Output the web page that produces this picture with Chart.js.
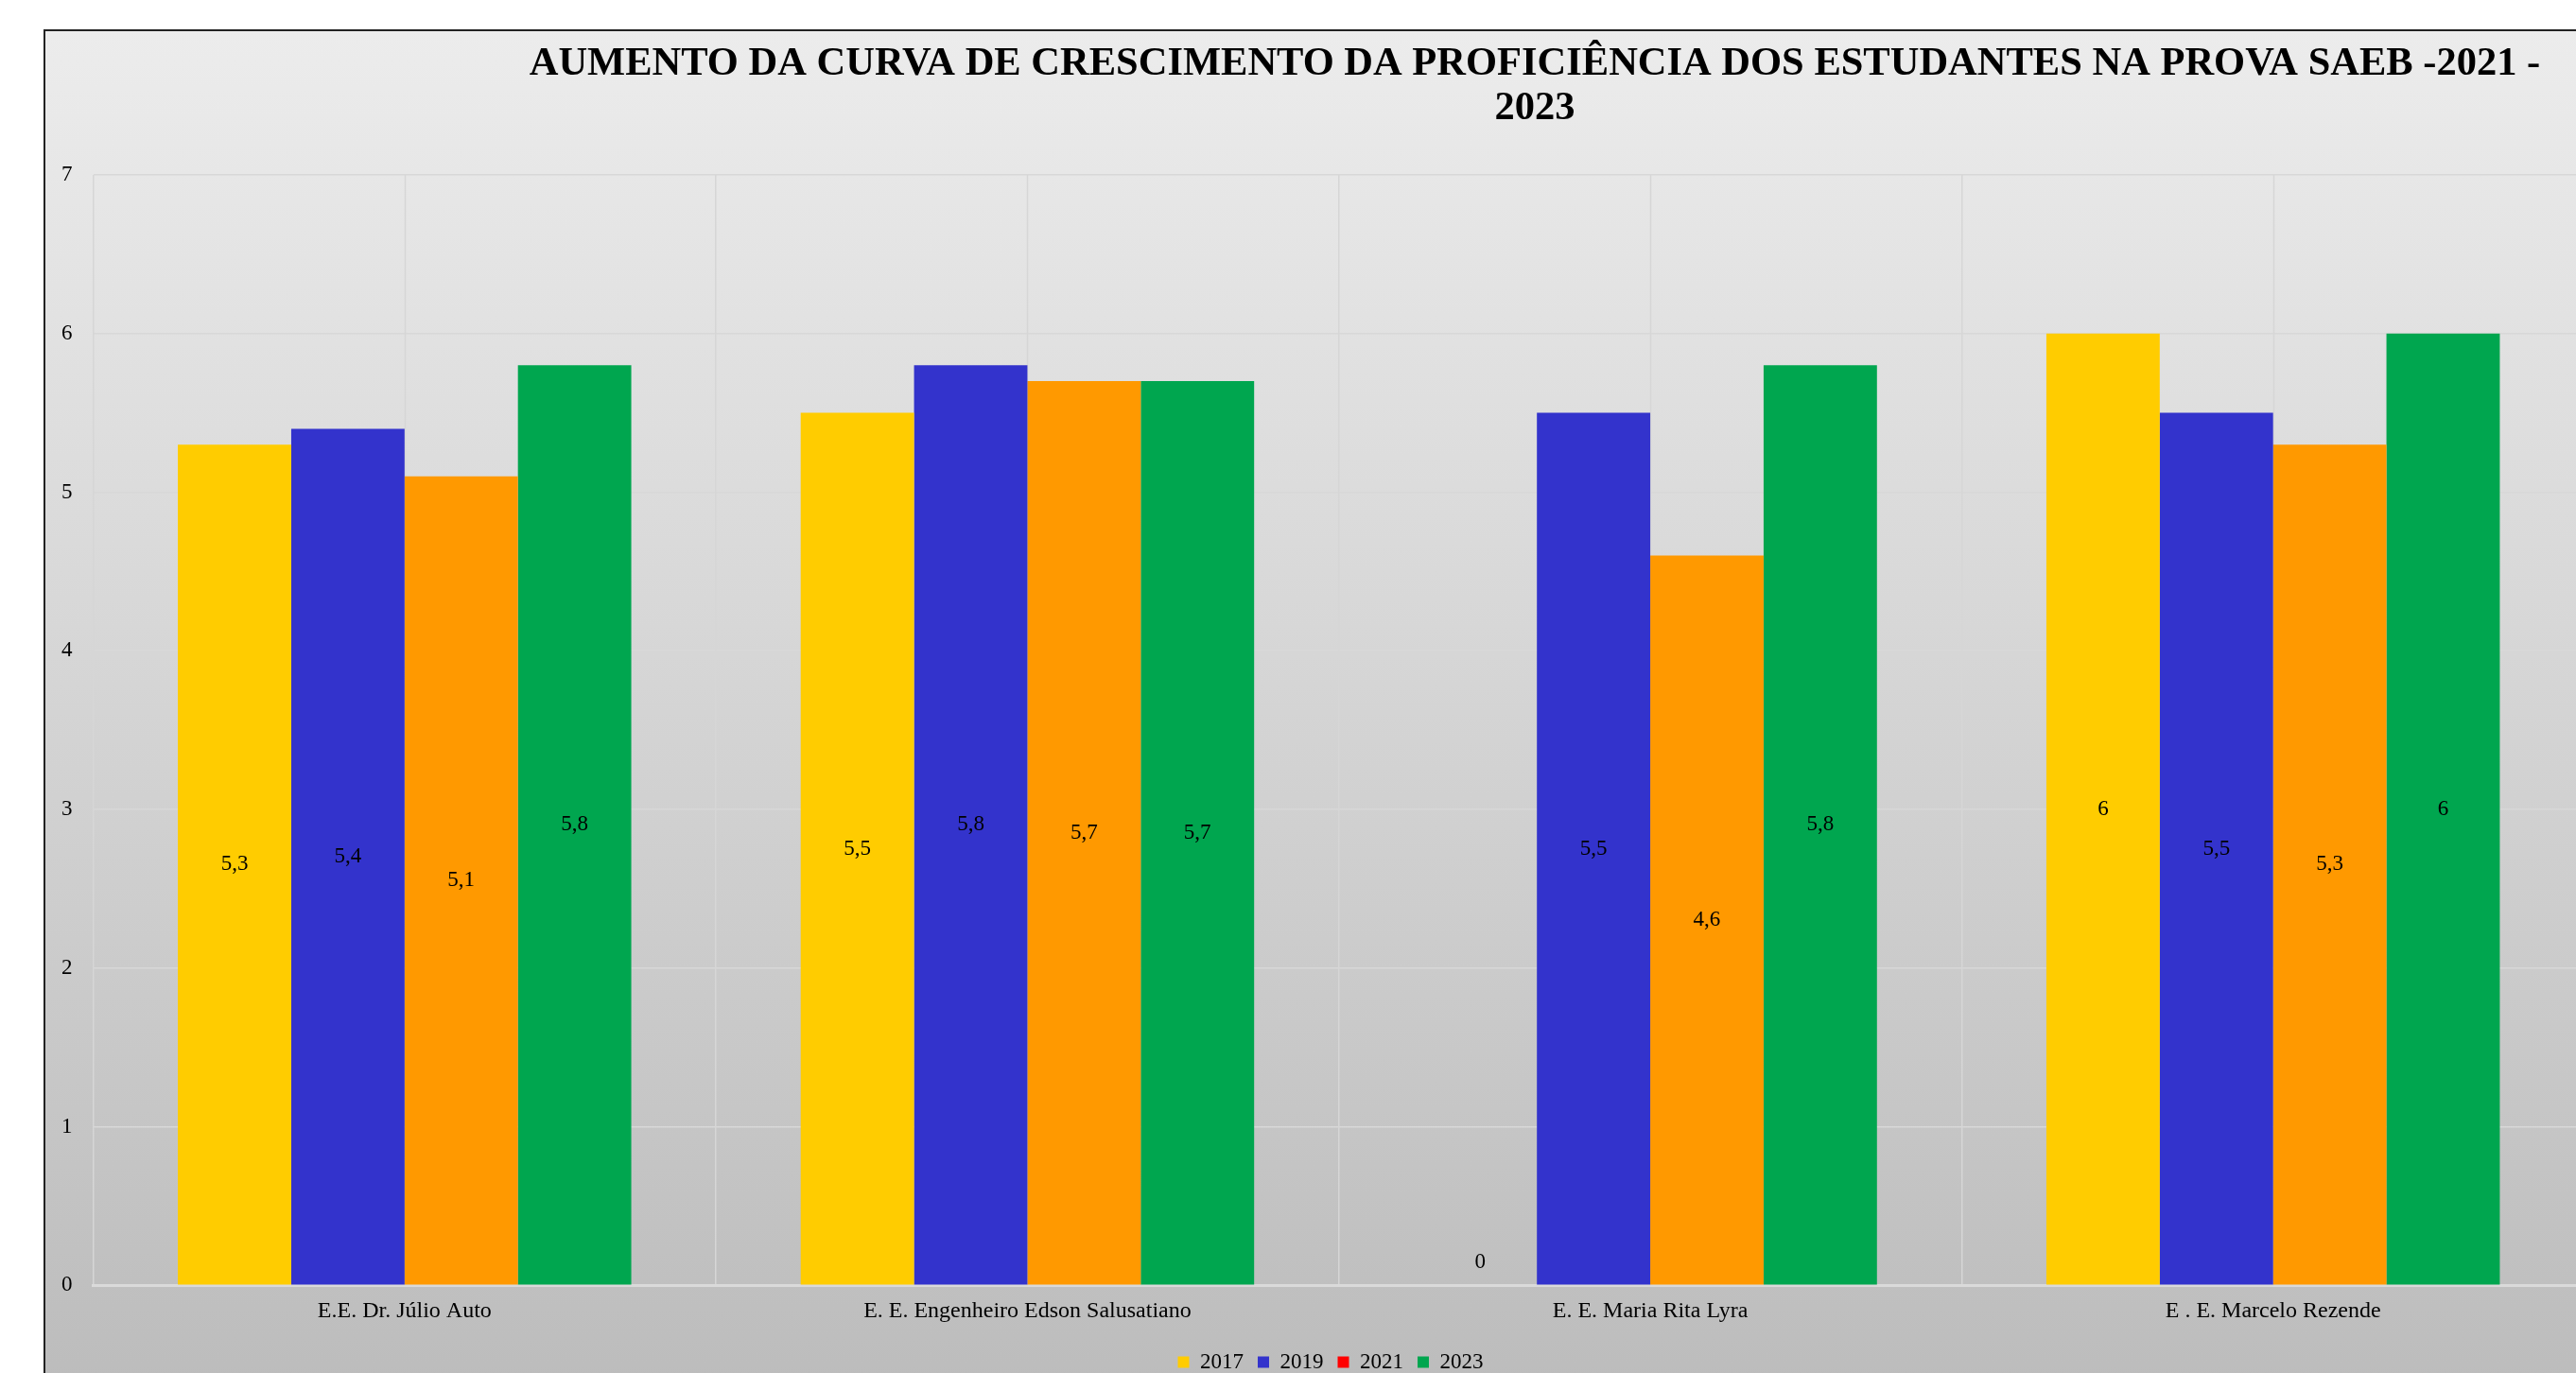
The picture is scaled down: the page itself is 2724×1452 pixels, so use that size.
<!DOCTYPE html>
<html>
<head>
<meta charset="utf-8">
<script src="https://cdn.jsdelivr.net/npm/chart.js@4.4.1/dist/chart.umd.min.js"></script>
<style>
  html, body { margin: 0; padding: 0; background: #fff; overflow: hidden; width: 2724px; height: 1452px; }
  #frame {
    position: absolute; left: 46px; top: 31px; width: 2760px; height: 1440px;
    border-left: 2px solid #222; border-top: 2px solid #222;
    background: linear-gradient(#ececec, #bcbcbc);
  }
  #frame canvas { display: block; }
</style>
</head>
<body>
<div id="frame"><canvas id="my-chart"></canvas></div>
<script>
'use strict';

let schools = ['E.E. Dr. Júlio Auto', 'E. E. Engenheiro Edson Salusatiano', 'E. E. Maria Rita Lyra', 'E . E. Marcelo Rezende'];
let years = ['2017', '2019', '2021', '2023'];
let scores2017 = [5.3, 5.5, 0, 6];
let scores2019 = [5.4, 5.8, 5.5, 5.5];
let scores2021 = [5.1, 5.7, 4.6, 5.3];
let scores2023 = [5.8, 5.7, 5.8, 6];
let barColors = ['#ffcc00', '#3333cc', '#ff9900', '#00a64f'];
let legendColors = ['#ffcc00', '#3333cc', '#ff0000', '#00a64f'];
let yTicks = [0, 1, 2, 3, 4, 5, 6, 7];
let titleLines = ['AUMENTO DA CURVA DE CRESCIMENTO DA PROFICIÊNCIA DOS ESTUDANTES NA PROVA SAEB -2021 -', '2023'];

let canvasElem = document.getElementById('my-chart');
let serif = '"Liberation Serif", "Times New Roman", serif';

// value labels in the middle of each bar, comma decimals
let barLabels = {
  id: 'barLabels',
  afterDatasetsDraw(chart) {
    let ctx = chart.ctx;
    ctx.save();
    ctx.font = '23px ' + serif;
    ctx.fillStyle = '#000';
    ctx.textAlign = 'center';
    ctx.textBaseline = 'middle';
    chart.data.datasets.forEach((ds, i) => {
      chart.getDatasetMeta(i).data.forEach((bar, j) => {
        let v = ds.data[j];
        let y = v === 0 ? bar.base - 24 : (bar.y + bar.base) / 2;
        ctx.fillText(String(v).replace('.', ','), bar.x, y);
      });
    });
    ctx.restore();
  }
};

// extra vertical grid lines through the middle of each category
let centerLines = {
  id: 'centerLines',
  beforeDatasetsDraw(chart) {
    let ctx = chart.ctx;
    let area = chart.chartArea;
    let xs = chart.scales.x;
    ctx.save();
    ctx.strokeStyle = '#d6d6d6';
    ctx.lineWidth = 1.5;
    for (let i = 0; i < schools.length; i++) {
      let px = Math.round(xs.getPixelForValue(i)) + 0.5;
      ctx.beginPath();
      ctx.moveTo(px, area.top);
      ctx.lineTo(px, area.bottom);
      ctx.stroke();
    }
    ctx.restore();
  }
};

// title sits right of centre in the original, so draw it ourselves
let shiftedTitle = {
  id: 'shiftedTitle',
  afterDraw(chart) {
    let ctx = chart.ctx;
    ctx.save();
    ctx.font = 'bold 42.5px ' + serif;
    ctx.fillStyle = '#000';
    ctx.textAlign = 'center';
    ctx.textBaseline = 'middle';
    ctx.fillText(titleLines[0], 1575, 35);
    ctx.fillText(titleLines[1], 1575, 82);
    ctx.restore();
  }
};

// legend is centred under the plot, not under the whole frame
let legendNudge = {
  id: 'legendNudge',
  afterLayout(chart) {
    chart.legend.left += 19;
    chart.legend.right += 19;
  }
};

function renderChart() {
  let seriesData = [scores2017, scores2019, scores2021, scores2023];
  let datasets = [];
  for (let i = 0; i < years.length; i++) {
    datasets.push({
      label: years[i],
      data: seriesData[i],
      backgroundColor: barColors[i],
      borderWidth: 0,
      categoryPercentage: 0.728,
      barPercentage: 1.0
    });
  }

  let chartObj = {
    type: 'bar',
    data: { labels: schools, datasets: datasets },
    plugins: [centerLines, barLabels, shiftedTitle, legendNudge],
    options: {
      responsive: true,
      maintainAspectRatio: false,
      devicePixelRatio: 1,
      animation: false,
      layout: { padding: { top: 152, left: -5, right: 75, bottom: 11 } },
      scales: {
        y: {
          min: 0,
          max: 7,
          afterBuildTicks(scale) { scale.ticks = yTicks.map(v => ({ value: v })); },
          ticks: { color: '#000', padding: 22, font: { family: serif, size: 23 } },
          grid: { color: '#d8d8d8', lineWidth: 1.5, drawTicks: false },
          border: { display: false }
        },
        x: {
          ticks: { color: '#000', padding: 13, font: { family: serif, size: 24 } },
          grid: { color: '#d6d6d6', lineWidth: 1.5, drawTicks: false },
          border: { display: true, color: '#dadada', width: 3 }
        }
      },
      plugins: {
        title: { display: false },
        tooltip: { enabled: false },
        legend: {
          position: 'bottom',
          labels: {
            color: '#000',
            boxWidth: 12,
            boxHeight: 12,
            padding: 15,
            font: { family: serif, size: 23 },
            generateLabels(chart) {
              let items = Chart.defaults.plugins.legend.labels.generateLabels(chart); //eslint-disable-line
              items.forEach((it, i) => {
                it.fillStyle = legendColors[i];
                it.strokeStyle = legendColors[i];
                it.lineWidth = 0;
              });
              return items;
            }
          }
        }
      }
    }
  };

  new Chart(canvasElem, chartObj); //eslint-disable-line
}

renderChart();
</script>
</body>
</html>
